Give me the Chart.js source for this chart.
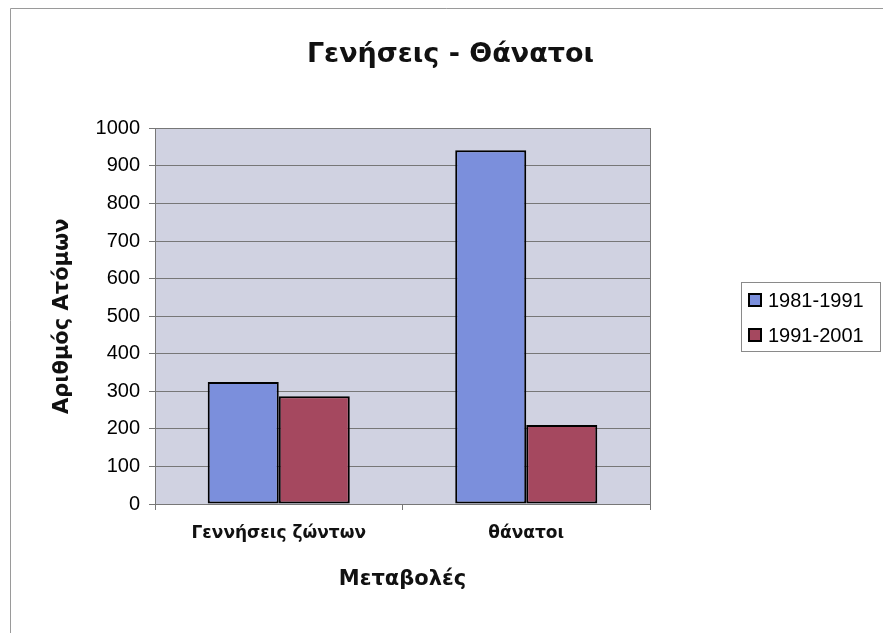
<!DOCTYPE html>
<html>
<head>
<meta charset="utf-8">
<script src="https://cdn.jsdelivr.net/npm/chart.js@4"></script>
<style>
  html, body { margin: 0; padding: 0; background: #ffffff; }
  #wrap { width: 883px; height: 633px; }
</style>
</head>
<body>
<div id="wrap"><canvas id="bar-chart" width="883" height="633"></canvas></div>
<script>
const categories = ["Γεννήσεις ζώντων", "θάνατοι"];
const seriesNames = ["1981-1991", "1991-2001"];
const values8191 = [325, 942];
const values9101 = [287, 210];
const yMin = 0;
const yMax = 1000;
const yStep = 100;

const blue = "#7b8fdc";
const wine = "#a5485f";

// plot background, outer frame and plot border
const chartBackground = {
  id: "chartBackground",
  beforeDraw(chart) {
    const { ctx, chartArea: a } = chart;
    ctx.save();
    ctx.fillStyle = "#ffffff";
    ctx.fillRect(0, 0, chart.width, chart.height);
    ctx.strokeStyle = "#9a9a9a";
    ctx.lineWidth = 1;
    ctx.beginPath();
    ctx.moveTo(10.5, chart.height);
    ctx.lineTo(10.5, 8.5);
    ctx.lineTo(chart.width, 8.5);
    ctx.stroke();
    ctx.fillStyle = "#d0d2e1";
    ctx.fillRect(a.left, a.top, a.right - a.left, a.bottom - a.top);
    ctx.restore();
  },
  beforeDatasetsDraw(chart) {
    const { ctx, chartArea: a } = chart;
    ctx.save();
    ctx.strokeStyle = "#777777";
    ctx.lineWidth = 1;
    ctx.strokeRect(Math.round(a.left) + 0.5, Math.round(a.top) + 0.5,
      Math.round(a.right - a.left), Math.round(a.bottom - a.top));
    ctx.restore();
  },
};

// boxed legend like the spreadsheet one
const boxedLegend = {
  id: "boxedLegend",
  afterDraw(chart) {
    const { ctx } = chart;
    const left = 741, top = 282, w = 139, h = 69;
    ctx.save();
    ctx.strokeStyle = "#8a8a8a";
    ctx.lineWidth = 1;
    ctx.strokeRect(left + 0.5, top + 0.5, w, h);
    ctx.font = "20px 'Liberation Sans', Arial, sans-serif";
    ctx.textBaseline = "middle";
    chart.data.datasets.forEach((ds, i) => {
      const cy = top + 18 + i * 35;
      ctx.fillStyle = ds.backgroundColor;
      ctx.fillRect(749, cy - 6, 12, 12);
      ctx.strokeStyle = "#000000";
      ctx.lineWidth = 2;
      ctx.strokeRect(749, cy - 6, 12, 12);
      ctx.fillStyle = "#000000";
      ctx.fillText(ds.label, 768, cy + 1);
    });
    ctx.restore();
  },
};

const ctx = document.getElementById("bar-chart").getContext("2d");

new Chart(ctx, {
  type: "bar",
  data: {
    labels: categories,
    datasets: [
      {
        label: seriesNames[0],
        data: values8191,
        backgroundColor: blue,
        borderColor: "#000000",
        borderWidth: 2,
        borderSkipped: false,
        categoryPercentage: 0.574,
        barPercentage: 1.0,
      },
      {
        label: seriesNames[1],
        data: values9101,
        backgroundColor: wine,
        borderColor: "#000000",
        borderWidth: 2,
        borderSkipped: false,
        categoryPercentage: 0.574,
        barPercentage: 1.0,
      },
    ],
  },
  options: {
    responsive: false,
    animation: false,
    devicePixelRatio: 1,
    layout: { padding: { left: 18, right: 0, top: 0, bottom: 0 } },
    plugins: {
      legend: { display: false },
      tooltip: { enabled: false },
      title: {
        display: true,
        text: "Γενήσεις - Θάνατοι",
        color: "#111111",
        font: { family: "'DejaVu Sans', sans-serif", size: 27, weight: "bold" },
        padding: { top: 39, bottom: 57 },
      },
    },
    scales: {
      x: {
        offset: true,
        grid: {
          display: true,
          offset: true,
          drawOnChartArea: false,
          tickLength: 6,
          color: "#777777",
        },
        border: { display: true, color: "#777777" },
        ticks: {
          color: "#111111",
          padding: 13,
          font: { family: "'DejaVu Sans', sans-serif", size: 17, weight: "bold" },
        },
        title: {
          display: true,
          text: "Μεταβολές",
          color: "#111111",
          font: { family: "'DejaVu Sans', sans-serif", size: 21, weight: "bold" },
          padding: { top: 20, bottom: 41 },
        },
        afterFit(scale) { scale.height = 129; },
      },
      y: {
        min: yMin,
        max: yMax,
        ticks: {
          stepSize: yStep,
          color: "#000000",
          padding: 9,
          font: { family: "'Liberation Sans', Arial, sans-serif", size: 20 },
          callback: (v) => String(v),
        },
        grid: {
          color: "#777777",
          lineWidth: 1,
          tickLength: 6,
        },
        border: { display: true, color: "#777777" },
        title: {
          display: true,
          text: "Αριθμός Ατόμων",
          color: "#111111",
          font: { family: "'DejaVu Sans', sans-serif", size: 21, weight: "bold" },
          padding: { top: 32, bottom: 20 },
        },
        afterFit(scale) { scale.width = 137; },
      },
      legendSpace: {
        type: "linear",
        position: "right",
        display: true,
        grid: { display: false },
        border: { display: false },
        ticks: { display: false },
        afterFit(scale) { scale.width = 233; },
      },
    },
  },
  plugins: [chartBackground, boxedLegend],
});
</script>
</body>
</html>
